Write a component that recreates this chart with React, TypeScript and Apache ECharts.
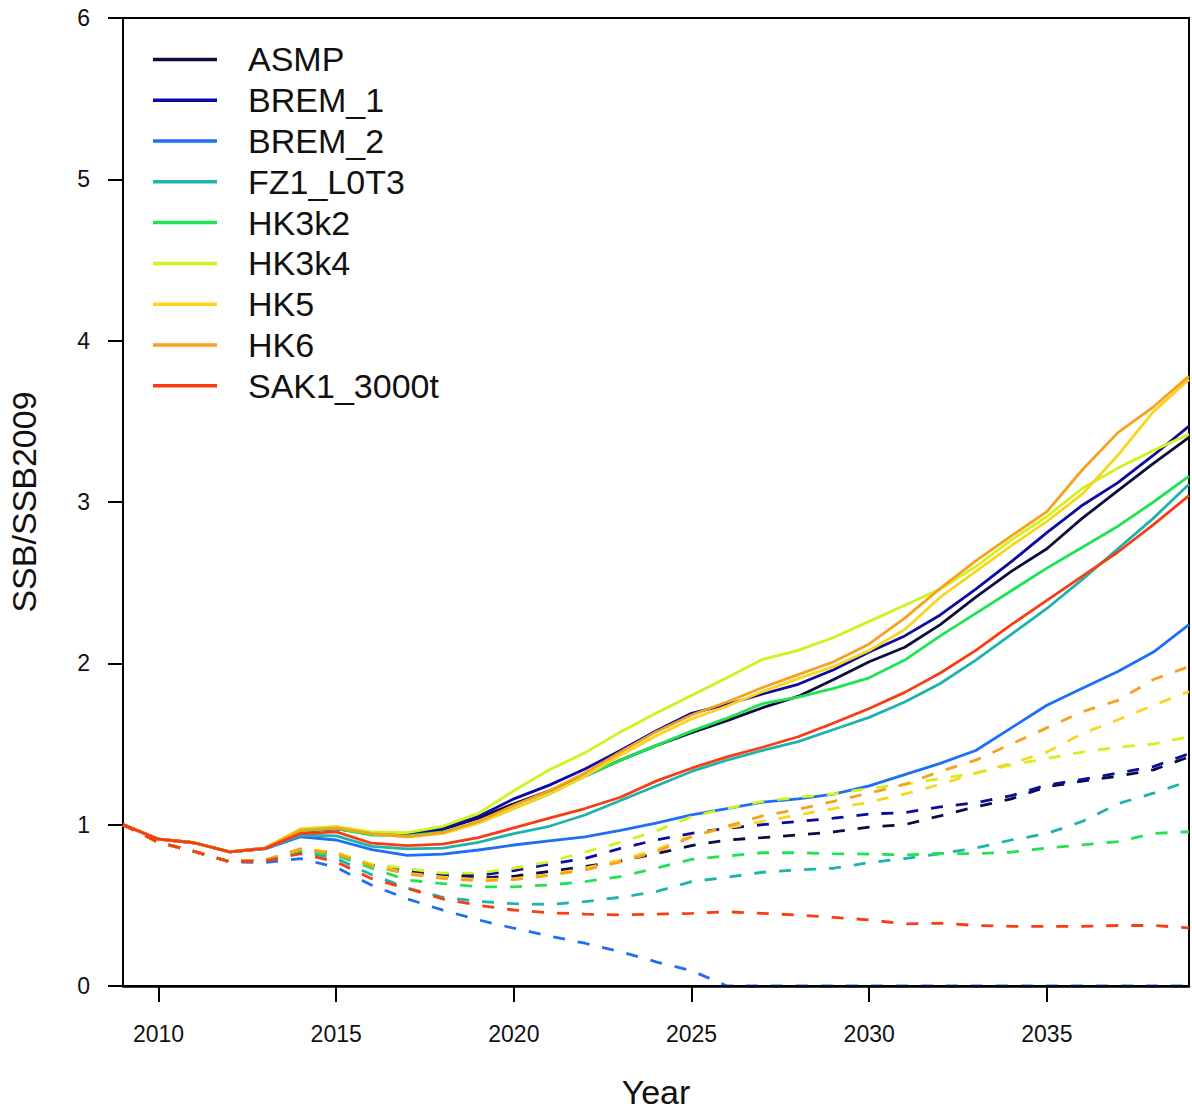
import React, { useEffect, useRef } from "react";
import * as echarts from "echarts";

const years = Array.from({ length: 31 }, (_, i) => 2009 + i);
const xTickValues = [2010, 2015, 2020, 2025, 2030, 2035];

const models = ["ASMP", "BREM_1", "BREM_2", "FZ1_L0T3", "HK3k2", "HK3k4", "HK5", "HK6", "SAK1_3000t"];
const colors = ["#0c0c3e", "#0b0ba0", "#1f6ff4", "#1fb3ab", "#1fe352", "#cdf41f", "#fad51f", "#f6a11f", "#f83d15"];

const asmpSolid = [1.0, 0.91, 0.888, 0.832, 0.853, 0.96, 0.975, 0.94, 0.94, 0.97, 1.04, 1.13, 1.21, 1.3, 1.4, 1.49, 1.57, 1.645, 1.725, 1.795, 1.9, 2.01, 2.1, 2.24, 2.41, 2.57, 2.71, 2.9, 3.07, 3.24, 3.4];
const asmpDashed = [1.0, 0.89, 0.835, 0.77, 0.78, 0.845, 0.825, 0.75, 0.7, 0.685, 0.67, 0.68, 0.71, 0.74, 0.775, 0.82, 0.87, 0.905, 0.92, 0.936, 0.955, 0.985, 1.0, 1.055, 1.11, 1.16, 1.235, 1.27, 1.3, 1.34, 1.42];
const brem1Solid = [1.0, 0.91, 0.888, 0.832, 0.853, 0.96, 0.975, 0.945, 0.945, 0.975, 1.05, 1.16, 1.245, 1.345, 1.46, 1.58, 1.69, 1.745, 1.81, 1.87, 1.96, 2.07, 2.17, 2.3, 2.46, 2.63, 2.81, 2.98, 3.12, 3.29, 3.47];
const brem1Dashed = [1.0, 0.89, 0.835, 0.77, 0.78, 0.845, 0.825, 0.75, 0.715, 0.69, 0.685, 0.715, 0.756, 0.79, 0.853, 0.905, 0.946, 0.977, 1.0, 1.02, 1.04, 1.066, 1.075, 1.11, 1.136, 1.18, 1.245, 1.28, 1.32, 1.36, 1.44];
const brem2Solid = [1.0, 0.91, 0.888, 0.832, 0.85, 0.925, 0.905, 0.845, 0.81, 0.818, 0.843, 0.874, 0.9, 0.925, 0.965, 1.01, 1.06, 1.1, 1.14, 1.16, 1.19, 1.24, 1.31, 1.38, 1.46, 1.6, 1.74, 1.845, 1.95, 2.07, 2.24];
const brem2Dashed = [1.0, 0.89, 0.835, 0.77, 0.765, 0.79, 0.735, 0.625, 0.54, 0.47, 0.41, 0.358, 0.31, 0.265, 0.213, 0.15, 0.095, 0, 0, 0, 0, 0, 0, 0, 0, 0, 0, 0, 0, 0, 0];
const fz1Solid = [1.0, 0.91, 0.888, 0.832, 0.853, 0.935, 0.93, 0.865, 0.85, 0.855, 0.89, 0.945, 0.99, 1.06, 1.15, 1.24, 1.33, 1.4, 1.46, 1.515, 1.59, 1.665, 1.76, 1.875, 2.02, 2.18, 2.34, 2.52, 2.71, 2.9, 3.11];
const fz1Dashed = [1.0, 0.89, 0.835, 0.77, 0.78, 0.835, 0.79, 0.69, 0.607, 0.55, 0.525, 0.51, 0.506, 0.523, 0.55, 0.585, 0.647, 0.674, 0.705, 0.72, 0.73, 0.765, 0.79, 0.82, 0.855, 0.905, 0.945, 1.02, 1.13, 1.195, 1.27];
const hk3k2Solid = [1.0, 0.91, 0.888, 0.832, 0.853, 0.96, 0.975, 0.935, 0.93, 0.955, 1.01, 1.1, 1.19, 1.3, 1.4, 1.49, 1.58, 1.66, 1.75, 1.79, 1.845, 1.91, 2.02, 2.17, 2.31, 2.45, 2.59, 2.72, 2.85, 3.0, 3.16];
const hk3k2Dashed = [1.0, 0.89, 0.835, 0.77, 0.78, 0.84, 0.81, 0.73, 0.657, 0.635, 0.615, 0.615, 0.626, 0.647, 0.678, 0.73, 0.785, 0.806, 0.826, 0.826, 0.82, 0.818, 0.812, 0.822, 0.82, 0.83, 0.855, 0.875, 0.895, 0.946, 0.956];
const hk3k4Solid = [1.0, 0.91, 0.888, 0.832, 0.855, 0.975, 0.99, 0.955, 0.95, 0.99, 1.07, 1.21, 1.34, 1.445, 1.575, 1.69, 1.8, 1.91, 2.025, 2.08, 2.16, 2.26, 2.36, 2.46, 2.6, 2.765, 2.91, 3.085, 3.21, 3.32, 3.42];
const hk3k4Dashed = [1.0, 0.89, 0.835, 0.77, 0.78, 0.85, 0.826, 0.755, 0.727, 0.7, 0.7, 0.73, 0.77, 0.83, 0.89, 0.96, 1.05, 1.1, 1.145, 1.17, 1.19, 1.225, 1.25, 1.285, 1.32, 1.37, 1.41, 1.45, 1.48, 1.5, 1.545];
const hk5Solid = [1.0, 0.91, 0.888, 0.832, 0.855, 0.97, 0.985, 0.945, 0.925, 0.945, 1.01, 1.1, 1.19, 1.3, 1.43, 1.55, 1.655, 1.735, 1.825, 1.905, 1.98, 2.08, 2.21, 2.41, 2.57, 2.73, 2.88, 3.05, 3.29, 3.56, 3.76];
const hk5Dashed = [1.0, 0.89, 0.835, 0.77, 0.78, 0.85, 0.825, 0.75, 0.7, 0.675, 0.66, 0.665, 0.69, 0.73, 0.78, 0.845, 0.93, 0.98, 1.02, 1.06, 1.1, 1.14, 1.19, 1.25, 1.32, 1.38, 1.45, 1.565, 1.65, 1.74, 1.825];
const hk6Solid = [1.0, 0.91, 0.888, 0.832, 0.855, 0.965, 0.98, 0.945, 0.925, 0.95, 1.02, 1.12, 1.21, 1.32, 1.45, 1.575, 1.68, 1.76, 1.85, 1.93, 2.01, 2.12, 2.28, 2.465, 2.635, 2.79, 2.94, 3.2, 3.43, 3.59, 3.78];
const hk6Dashed = [1.0, 0.89, 0.835, 0.77, 0.78, 0.85, 0.82, 0.745, 0.694, 0.667, 0.652, 0.66, 0.685, 0.72, 0.77, 0.83, 0.925, 0.99, 1.055, 1.095, 1.145, 1.195, 1.25, 1.33, 1.4, 1.5, 1.6, 1.7, 1.77, 1.9, 1.98];
const sak1Solid = [1.0, 0.91, 0.888, 0.832, 0.853, 0.945, 0.955, 0.885, 0.87, 0.88, 0.92, 0.98, 1.04, 1.1, 1.17, 1.27, 1.35, 1.42, 1.48, 1.545, 1.63, 1.72, 1.82, 1.94, 2.08, 2.24, 2.39, 2.54, 2.69, 2.86, 3.04];
const sak1Dashed = [1.0, 0.89, 0.835, 0.77, 0.775, 0.82, 0.77, 0.665, 0.605, 0.54, 0.5, 0.471, 0.454, 0.446, 0.44, 0.446, 0.45, 0.46, 0.45, 0.44, 0.425, 0.41, 0.385, 0.39, 0.375, 0.37, 0.37, 0.37, 0.375, 0.375, 0.36];

const solidSets = [asmpSolid, brem1Solid, brem2Solid, fz1Solid, hk3k2Solid, hk3k4Solid, hk5Solid, hk6Solid, sak1Solid];
const dashedSets = [asmpDashed, brem1Dashed, brem2Dashed, fz1Dashed, hk3k2Dashed, hk3k4Dashed, hk5Dashed, hk6Dashed, sak1Dashed];

const FONT = "'Liberation Sans', Arial, Helvetica, sans-serif";

export default function App() {
  const ref = useRef<HTMLDivElement>(null);

  useEffect(() => {
    if (!ref.current) return;
    const chart = echarts.init(ref.current, null, { renderer: "svg" });
    const series: any[] = [];
    models.forEach((name, i) => {
      series.push({
        name,
        type: "line",
        data: years.map((y, k) => [y, solidSets[i][k]]),
        symbol: "none",
        lineStyle: { color: colors[i], width: 2.8 },
        itemStyle: { color: colors[i] },
        z: 2 + i,
      });
      series.push({
        name,
        type: "line",
        data: years.map((y, k) => [y, dashedSets[i][k]]),
        symbol: "none",
        lineStyle: { color: colors[i], width: 2.8, type: [12, 13] },
        itemStyle: { color: colors[i] },
        z: 2 + i,
      });
    });

    chart.setOption({
      animation: false,
      backgroundColor: "#ffffff",
      grid: {
        left: 123,
        top: 18,
        right: 3,
        bottom: 125,
        show: true,
        containLabel: false,
        outerBoundsMode: "none",
        borderColor: "#000",
        borderWidth: 2,
        backgroundColor: "transparent",
      },
      legend: {
        orient: "vertical",
        left: 148,
        top: 34,
        icon: "rect",
        itemWidth: 64,
        itemHeight: 3.5,
        itemGap: 0,
        data: models,
        selectedMode: false,
        textStyle: {
          fontSize: 34,
          color: "#111",
          fontFamily: FONT,
          lineHeight: 40.8,
          padding: [0, 0, 0, 26],
        },
      },
      xAxis: {
        type: "value",
        min: 2009,
        max: 2039,
        z: 30,
        name: "Year",
        nameLocation: "middle",
        nameGap: 89,
        nameTextStyle: { fontSize: 34, color: "#111", fontFamily: FONT },
        splitLine: { show: false },
        axisLine: { show: true, onZero: false, lineStyle: { color: "#000", width: 2.5 } },
        axisTick: {
          show: true,
          length: 16,
          inside: false,
          customValues: xTickValues,
          lineStyle: { color: "#000", width: 2 },
        },
        axisLabel: {
          show: true,
          customValues: xTickValues,
          formatter: (v: number) => String(Math.round(v)),
          fontSize: 23,
          color: "#111",
          fontFamily: FONT,
          margin: 36,
        },
      },
      yAxis: {
        type: "value",
        min: 0,
        max: 6,
        interval: 1,
        name: "SSB/SSB2009",
        nameLocation: "middle",
        nameGap: 82,
        nameRotate: 90,
        nameTextStyle: { fontSize: 34, color: "#111", fontFamily: FONT },
        splitLine: { show: false },
        axisLine: { show: true, onZero: false, lineStyle: { color: "#000", width: 2 } },
        axisTick: { show: true, length: 15, inside: false, lineStyle: { color: "#000", width: 2 } },
        axisLabel: { fontSize: 23, color: "#111", fontFamily: FONT, margin: 33 },
      },
      series,
    });
    return () => chart.dispose();
  }, []);

  return (
    <div
      ref={ref}
      style={{ position: "fixed", left: 0, top: 0, width: 1192, height: 1111, background: "#fff" }}
    />
  );
}
